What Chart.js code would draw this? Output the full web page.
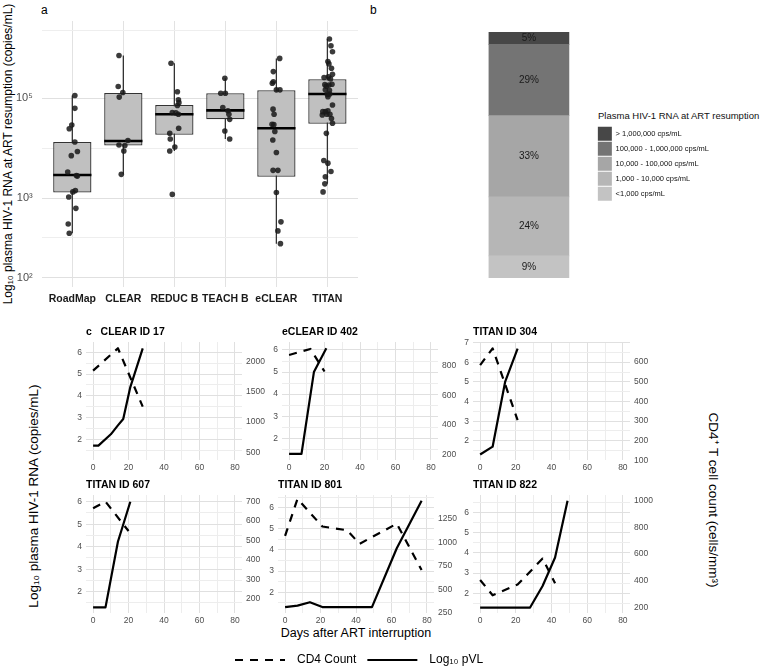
<!DOCTYPE html>
<html>
<head>
<meta charset="utf-8">
<script src="https://cdn.jsdelivr.net/npm/chart.js@4.4.1/dist/chart.umd.min.js"></script>
<style>
  html, body { margin: 0; background: #fff; overflow: hidden; }
  #fig { position: relative; width: 764px; height: 668px; overflow: hidden; font-family: "Liberation Sans", Arial, sans-serif; }
  #fig canvas { position: absolute; }
  .lbl { position: absolute; white-space: nowrap; color: #000; line-height: 1; }
  .ctr { transform: translate(-50%, -50%); }
  .mid { transform: translateY(-50%); }
  .up { transform: translate(-50%, -50%) rotate(-90deg); }
  .down { transform: translate(-50%, -50%) rotate(90deg); }
</style>
</head>
<body>
<div id="fig">
  <div class="lbl" style="left:41px;top:4px;font-size:12px">a</div>
  <div class="lbl" style="left:370px;top:4px;font-size:12px">b</div>
  <div class="lbl up" style="left:8px;top:154px;font-size:12px">Log₁₀ plasma HIV-1 RNA at ART resumption (copies/mL)</div>
  <div class="lbl mid" style="left:598px;top:116px;font-size:9.5px;color:#111">Plasma HIV-1 RNA at ART resumption</div>
  <div class="lbl up" style="left:34px;top:496px;font-size:13.5px">Log₁₀ plasma HIV-1 RNA (copies/mL)</div>
  <div class="lbl down" style="left:713px;top:500px;font-size:13.5px">CD4⁺ T cell count (cells/mm³)</div>
  <div class="lbl ctr" style="left:356px;top:633px;font-size:12.5px">Days after ART interruption</div>
</div>
<script>
// ---- panel a: viral load at ART resumption (log10 copies/mL) ----
const studies = ['RoadMap', 'CLEAR', 'REDUC B', 'TEACH B', 'eCLEAR', 'TITAN'];
const whiskerLow = [2.51, 3.39, 3.82, 4.06, 2.38, 3.23];
const quart1 = [3.09, 3.93, 4.15, 4.49, 3.35, 4.39];
const medians = [3.38, 4.02, 4.61, 4.70, 4.29, 5.11];
const quart3 = [4.00, 5.14, 4.83, 5.13, 5.21, 5.51];
const whiskerHigh = [5.07, 6.22, 5.98, 5.54, 6.13, 6.77];

// jittered participants, one list per study
const dotJitter = [
  [0.05, 0.05, -0.01, -0.06, 0.05, 0.10, -0.02, -0.09, 0.08, 0.10, 0.01, 0.06, -0.07, 0.07, -0.08, -0.06],
  [-0.085, -0.10, -0.01, -0.08, 0.09, -0.085, 0.03, 0.01, -0.04],
  [-0.065, 0.06, 0.08, 0.09, 0.06, -0.04, 0.03, 0.08, 0.085, -0.09, -0.08, 0.01, -0.09, -0.04],
  [-0.01, -0.09, 0.0, -0.05, 0.05, 0.07, 0.085, -0.01, 0.085],
  [0.065, -0.06, -0.06, -0.08, 0, 0.07, -0.065, -0.045, -0.085, -0.05, -0.03, -0.07, 0, -0.065, 0.03, 0, 0.09, 0.03, 0.08],
  [0.04, 0.07, 0.10, 0.01, 0.03, 0.08, 0.10, 0.02, -0.065, 0.06, 0.09, -0.05, 0.03, -0.02, -0.04, 0.04, 0.045, 0, 0.01,
   0.10, 0.01, -0.09, -0.04, -0.01, 0.05, -0.10, 0.08, 0.10, -0.02, -0.07, 0.01, 0.07, -0.04, -0.05, -0.085]
];
const dotLog = [
  [5.07, 4.75, 4.36, 4.28, 4.00, 3.81, 3.73, 3.43, 3.37, 3.36, 3.10, 3.12, 3.02, 2.85, 2.63, 2.51],
  [6.22, 5.31, 5.15, 5.03, 4.03, 3.94, 3.93, 3.82, 3.39],
  [5.98, 5.17, 4.96, 4.89, 4.82, 4.65, 4.64, 4.61, 4.29, 4.18, 4.06, 3.90, 3.82, 3.06],
  [5.54, 5.13, 5.13, 4.77, 4.69, 4.61, 4.49, 4.23, 4.06],
  [6.13, 5.73, 5.44, 5.40, 5.22, 5.22, 4.73, 4.61, 4.38, 4.37, 4.22, 4.04, 3.79, 3.46, 3.46, 3.09, 2.66, 2.54, 2.38],
  [6.77, 6.54, 6.34, 6.03, 5.96, 5.83, 5.65, 5.58, 5.56, 5.52, 5.37, 5.36, 5.35, 5.32, 5.22, 5.21, 5.11, 5.10, 5.04,
   4.83, 4.69, 4.67, 4.67, 4.61, 4.61, 4.59, 4.51, 4.40, 4.18, 3.64, 3.59, 3.44, 3.35, 3.23, 3.10]
];
const logBreaks = [2, 3, 5];
const logBreakLabels = ['10²', '10³', '10⁵'];

// ---- panel b: distribution of viral load at resumption ----
const rnaBands = ['<1,000 cps/mL', '1,000 - 10,000 cps/mL', '10,000 - 100,000 cps/mL', '100,000 - 1,000,000 cps/mL', '> 1,000,000 cps/mL'];
const rnaShare = [9, 24, 33, 29, 5];
const bandColors = ['#c3c3c3', '#b6b6b6', '#a6a6a6', '#747474', '#474747'];

// ---- panel c: individual participants ----
const cases = ['c   CLEAR ID 17', 'eCLEAR ID 402', 'TITAN ID 304', 'TITAN ID 607', 'TITAN ID 801', 'TITAN ID 822'];
const vlDays = [
  [0, 3, 10, 14, 17, 21, 28],
  [0, 7, 14, 21],
  [0, 7, 14, 21],
  [0, 7, 14, 21],
  [0, 7, 14, 21, 28, 35, 42, 49, 63, 77],
  [0, 7, 14, 21, 28, 35, 42, 49]
];
const vlLog = [
  [1.71, 1.71, 2.23, 2.64, 2.93, 4.4, 6.18],
  [1.3, 1.3, 5.0, 6.08],
  [1.3, 1.7, 5.0, 6.7],
  [1.3, 1.3, 4.22, 6.0],
  [1.3, 1.37, 1.53, 1.3, 1.3, 1.3, 1.3, 1.3, 4.08, 6.33],
  [1.3, 1.3, 1.3, 1.3, 1.3, 2.36, 3.77, 6.57]
];
const cd4Days = [
  [0, 14, 28],
  [0, 12, 20],
  [0, 7, 21],
  [0, 7, 20],
  [0, 7, 21, 35, 42, 63, 77],
  [0, 7, 21, 35, 42]
];
const cd4Count = [
  [1851, 2222, 1255],
  [872, 913, 760],
  [583, 668, 305],
  [666, 700, 549],
  [1070, 1465, 1170, 1130, 985, 1200, 705],
  [405, 290, 370, 565, 380]
];
const vlTicks = [[2, 3, 4, 5, 6], [2, 3, 4, 5, 6], [2, 3, 4, 5, 6, 7], [2, 3, 4, 5, 6], [2, 3, 4, 5, 6], [2, 3, 4, 5, 6]];
const cd4Ticks = [
  [500, 1000, 1500, 2000],
  [200, 400, 600, 800],
  [100, 200, 300, 400, 500, 600],
  [200, 300, 400, 500, 600, 700],
  [250, 500, 750, 1000, 1250],
  [200, 400, 600, 800, 1000]
];
const dayTicks = [0, 20, 40, 60, 80];

// layout of the small panels on the page + axis ranges
const panelBoxes = [
  {x0: 93.3, x80: 235.0, top: 342, bottom: 460, vl: [1.05, 6.47], cd4: [372, 2326]},
  {x0: 289.3, x80: 431.0, top: 342, bottom: 460, vl: [1.02, 6.36], cd4: [161, 960]},
  {x0: 480.4, x80: 622.7, top: 342, bottom: 460, vl: [1.02, 7.04], cd4: [103, 700]},
  {x0: 93.3, x80: 235.0, top: 495, bottom: 613, vl: [1.05, 6.30], cd4: [128, 734]},
  {x0: 285.3, x80: 426.7, top: 495, bottom: 613, vl: [1.02, 6.60], cd4: [247, 1506]},
  {x0: 480.4, x80: 622.7, top: 495, bottom: 613, vl: [1.03, 6.85], cd4: [157, 1042]}
];
const dashStyle = [8, 7];

Chart.defaults.font.family = '"Liberation Sans", Arial, sans-serif';
Chart.defaults.animation = false;

const fig = document.getElementById('fig');
function addCanvas(left, top, w, h) {
  const c = document.createElement('canvas');
  c.width = Math.round(w);
  c.height = Math.round(h);
  c.style.left = left + 'px';
  c.style.top = top + 'px';
  c.style.width = Math.round(w) + 'px';
  c.style.height = Math.round(h) + 'px';
  fig.appendChild(c);
  return c;
}

// ---------- panel a ----------
const whiskerPts = [];
const medianPts = [];
const dots = [];
const halfBox = 0.375;
studies.forEach((s, i) => {
  const x = i + 1;
  whiskerPts.push({x: x, y: whiskerLow[i]}, {x: x, y: whiskerHigh[i]}, {x: x, y: null});
  medianPts.push({x: x - halfBox, y: medians[i]}, {x: x + halfBox, y: medians[i]}, {x: x + halfBox, y: null});
  dotLog[i].forEach((v, k) => dots.push({x: x + dotJitter[i][k], y: v}));
});
const minorLog = [];
for (let i = 0; i < logBreaks.length; i++) {
  minorLog.push(logBreaks[i]);
  const next = i < logBreaks.length - 1 ? logBreaks[i + 1] : logBreaks[i] * 2;
  minorLog.push(Math.sqrt(logBreaks[i] * next));
}

new Chart(addCanvas(0, 0, 380, 312), {
  type: 'bar',
  data: {
    datasets: [
      {type: 'line', data: whiskerPts, borderColor: '#333', borderWidth: 1.3, pointRadius: 0, spanGaps: false, order: 4},
      {type: 'bar', data: studies.map((s, i) => ({x: i + 1, y: [quart1[i], quart3[i]]})),
       backgroundColor: '#c0c0c0', borderColor: '#333', borderWidth: 1.3, borderSkipped: false,
       barPercentage: 0.75, categoryPercentage: 1, order: 3},
      {type: 'line', data: medianPts, borderColor: '#000', borderWidth: 2.6, pointRadius: 0, spanGaps: false, order: 2},
      {type: 'scatter', data: dots, backgroundColor: 'rgba(25,25,25,0.85)', borderWidth: 0, pointRadius: 2.8, order: 1}
    ]
  },
  options: {
    responsive: false,
    layout: {padding: {top: 21, right: 22}},
    plugins: {legend: {display: false}, tooltip: {enabled: false}},
    scales: {
      x: {
        type: 'linear', min: 0.4, max: 6.6, offset: false,
        afterBuildTicks: s => { s.ticks = studies.map((n, i) => ({value: i + 1})); },
        afterFit: s => { s.height = 25.3; },
        ticks: {callback: v => studies[Math.round(v) - 1], autoSkip: false, maxRotation: 0, padding: 6,
                font: {size: 10.5, weight: 'bold'}, color: '#1a1a1a'},
        grid: {color: '#e2e2e2', drawTicks: false, offset: false},
        border: {display: false}
      },
      y: {
        type: 'logarithmic', min: 1.91, max: 7.42,
        afterBuildTicks: s => { s.ticks = minorLog.map(v => ({value: v})); },
        afterFit: s => { s.width = 41.7; },
        ticks: {callback: v => { const k = logBreaks.indexOf(v); return k >= 0 ? logBreakLabels[k] : ''; },
                autoSkip: false, padding: 9, font: {size: 11}, color: '#4d4d4d'},
        grid: {color: c => logBreaks.includes(c.tick.value) ? '#e0e0e0' : '#eeeeee', drawTicks: false},
        border: {display: false}
      }
    }
  }
});

// ---------- panel b ----------
const pctLabels = {
  id: 'pctLabels',
  afterDatasetsDraw(chart) {
    const ctx = chart.ctx;
    ctx.save();
    ctx.font = '10px "Liberation Sans", Arial, sans-serif';
    ctx.fillStyle = '#1a1a1a';
    ctx.textAlign = 'center';
    ctx.textBaseline = 'middle';
    chart.data.datasets.forEach((d, i) => {
      const el = chart.getDatasetMeta(i).data[0];
      const p = el.getCenterPoint();
      ctx.fillText(d.data[0] + '%', p.x, p.y);
    });
    ctx.restore();
  }
};
new Chart(addCanvas(380, 0, 384, 300), {
  type: 'bar',
  data: {
    labels: [''],
    datasets: rnaBands.map((b, i) => ({label: b, data: [rnaShare[i]], backgroundColor: bandColors[i], borderWidth: 0, barThickness: 80}))
  },
  options: {
    responsive: false,
    layout: {padding: {left: 81, right: 45, top: 32, bottom: 22}},
    scales: {
      x: {stacked: true, display: false},
      y: {stacked: true, display: false, min: 0, max: 100}
    },
    plugins: {
      tooltip: {enabled: false},
      legend: {
        position: 'right', reverse: true, align: 'center',
        // title text is set as page text above (the legend box would clip it); keep its space here
        title: {display: true, text: '', font: {size: 9.5}, padding: {top: 2, bottom: 4}},
        labels: {boxWidth: 14, boxHeight: 14, padding: 1, font: {size: 7.5}, color: '#111'}
      }
    }
  },
  plugins: [pctLabels]
});

// ---------- panel c ----------
function withMinors(major, lo, hi) {
  const step = major[1] - major[0];
  const out = [];
  for (let v = major[0] - step / 2; v <= major[major.length - 1] + step / 2 + 1e-9; v += step / 2) {
    if (v >= lo && v <= hi) out.push(Math.round(v * 1000) / 1000);
  }
  return out;
}
const padL = 34, padR = 34, titleH = 22, axisH = 18;

cases.forEach((name, i) => {
  const p = panelBoxes[i];
  const perDay = (p.x80 - p.x0) / 80;
  const plotL = p.x0 - 4 * perDay;
  const plotR = p.x80 + 4 * perDay;
  const cv = addCanvas(plotL - padL, p.top - titleH, plotR - plotL + padL + padR, p.bottom - p.top + titleH + axisH);
  const dayGrid = withMinors(dayTicks, -4, 84);
  const vlGrid = withMinors(vlTicks[i], p.vl[0], p.vl[1]);
  new Chart(cv, {
    type: 'line',
    data: {
      datasets: [
        {label: 'Log10 pVL', data: vlDays[i].map((d, k) => ({x: d, y: vlLog[i][k]})), yAxisID: 'y',
         borderColor: '#000', borderWidth: 2.2, pointRadius: 0, borderJoinStyle: 'round'},
        {label: 'CD4 Count', data: cd4Days[i].map((d, k) => ({x: d, y: cd4Count[i][k]})), yAxisID: 'y2',
         borderColor: '#000', borderWidth: 2.2, borderDash: dashStyle, pointRadius: 0, borderJoinStyle: 'round'}
      ]
    },
    options: {
      responsive: false,
      plugins: {
        legend: {display: false}, tooltip: {enabled: false},
        title: {display: true, text: name, align: 'start', fullSize: false, color: '#000',
                font: {size: 10.5, weight: 'bold'}, padding: {top: 5.7, bottom: 3.7}}
      },
      scales: {
        x: {
          type: 'linear', min: -4, max: 84,
          afterBuildTicks: s => { s.ticks = dayGrid.map(v => ({value: v})); },
          afterFit: s => { s.height = axisH; },
          ticks: {callback: v => dayTicks.includes(v) ? String(v) : '', autoSkip: false, maxRotation: 0, padding: 3,
                  font: {size: 8.5}, color: '#4d4d4d'},
          grid: {color: c => dayTicks.includes(c.tick.value) ? '#e0e0e0' : '#ededed', drawTicks: false},
          border: {display: false}
        },
        y: {
          position: 'left', min: p.vl[0], max: p.vl[1],
          afterBuildTicks: s => { s.ticks = vlGrid.map(v => ({value: v})); },
          afterFit: s => { s.width = padL; },
          ticks: {callback: v => vlTicks[i].includes(v) ? String(v) : '', autoSkip: false, padding: 4,
                  font: {size: 8.5}, color: '#4d4d4d'},
          grid: {color: c => vlTicks[i].includes(c.tick.value) ? '#e0e0e0' : '#ededed', drawTicks: false},
          border: {display: false}
        },
        y2: {
          position: 'right', min: p.cd4[0], max: p.cd4[1],
          afterBuildTicks: s => { s.ticks = cd4Ticks[i].map(v => ({value: v})); },
          afterFit: s => { s.width = padR; },
          ticks: {callback: v => String(v), autoSkip: false, padding: 4, font: {size: 8.5}, color: '#4d4d4d'},
          grid: {display: false, drawTicks: false},
          border: {display: false}
        }
      }
    }
  });
});

// ---------- bottom legend for panel c ----------
// canvas is tall so the legend box (max half the chart height) is not clipped
new Chart(addCanvas(224, 643, 300, 84), {
  type: 'line',
  data: {
    datasets: [
      {label: '\u2002CD4 Count', data: [], borderColor: '#000', borderWidth: 2.2, borderDash: dashStyle},
      {label: '\u2002Log₁₀ pVL', data: [], borderColor: '#000', borderWidth: 2.2, borderDash: []}
    ]
  },
  options: {
    responsive: false,
    scales: {x: {display: false}, y: {display: false}},
    plugins: {
      tooltip: {enabled: false},
      legend: {position: 'top', align: 'start',
               labels: {usePointStyle: true, pointStyle: 'line', pointStyleWidth: 50, padding: 11,
                        font: {size: 12}, color: '#000',
                        generateLabels: chart => Chart.defaults.plugins.legend.labels.generateLabels(chart)
                          .map((item, k) => Object.assign(item, {lineDash: chart.data.datasets[k].borderDash}))}}
    }
  }
});
</script>
</body>
</html>
